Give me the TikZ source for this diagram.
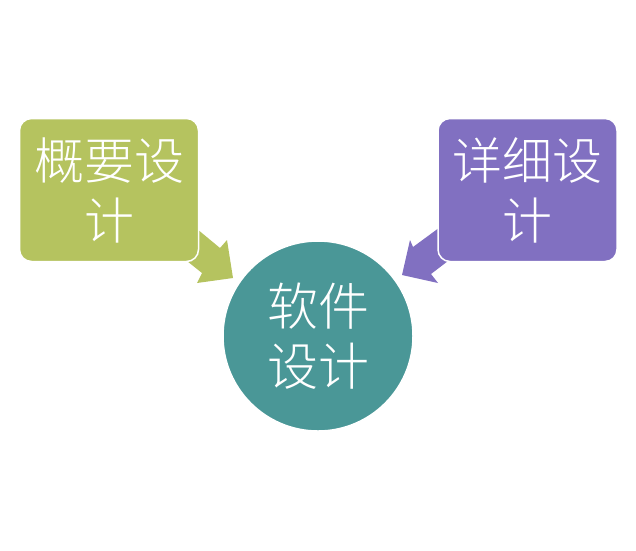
\documentclass[tikz,border=0pt]{standalone}
\usepackage{fontspec}
\newfontfamily\cjk{Noto Sans CJK SC Light}
\definecolor{cgreen}{HTML}{B5C35F}
\definecolor{cpurple}{HTML}{8170C1}
\definecolor{cteal}{HTML}{4A9797}
\begin{document}
\begin{tikzpicture}[x=1pt,y=-1pt,
  boxstyle/.style={draw=white,line width=1.5pt,rounded corners=12pt,minimum width=179pt,minimum height=143pt,inner sep=0pt,text=white,align=center,font=\cjk\fontsize{50}{60}\selectfont},
  circstyle/.style={circle,draw=white,line width=1.5pt,minimum size=190pt,inner sep=0pt,fill=cteal,text=white,align=center,font=\cjk\fontsize{51}{60}\selectfont}]
\useasboundingbox (0,0) rectangle (636,550);
% arrows
\fill[cgreen] (233,278) -- (227,240) -- (220,248) -- (185,219) -- (167,245) -- (202,273) -- (197,283) -- cycle;
\fill[cpurple] (402,275) -- (438,283) -- (431,274) -- (465,248) -- (447,222) -- (413,247) -- (410,240) -- cycle;
\node[boxstyle,fill=cgreen] (a) at (109,190) {概要设\\计};
\node[boxstyle,fill=cpurple] (b) at (527.5,190) {详细设\\计};
\node[circstyle] (c) at (318,336) {软件\\设计};
\end{tikzpicture}
\end{document}
